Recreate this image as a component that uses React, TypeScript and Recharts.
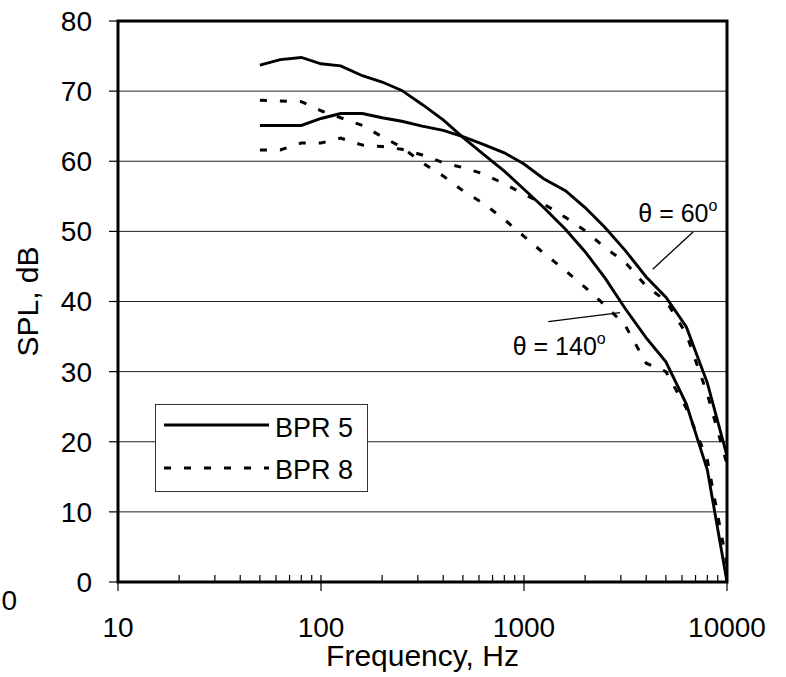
import React from 'react';
import {
  LineChart,
  Line,
  XAxis,
  YAxis,
  CartesianGrid,
  ReferenceLine,
  ReferenceArea,
  ReferenceDot,
  Legend,
} from 'recharts';

// ---------- data ----------
const frequencies = [
  50, 63, 80, 100, 125, 160, 200, 250, 315, 400, 500, 630, 800, 1000, 1250, 1600,
  2000, 2500, 3150, 4000, 5000, 6300, 8000, 10000,
];

const bpr5Theta60 = [
  65.1, 65.1, 65.1, 66.1, 66.8, 66.8, 66.2, 65.7, 65.0, 64.4, 63.5, 62.4, 61.2, 59.6,
  57.5, 55.8, 53.4, 50.6, 47.3, 43.5, 40.6, 36.4, 28.4, 18.0,
];

const bpr5Theta140 = [
  73.7, 74.5, 74.8, 73.9, 73.6, 72.2, 71.3, 70.1, 68.1, 65.9, 63.4, 61.0, 58.6, 56.0,
  53.4, 50.3, 47.1, 43.4, 39.0, 34.8, 31.4, 25.4, 16.0, 0.0,
];

const bpr8Theta60 = [
  61.6, 61.6, 62.6, 62.6, 63.3, 62.3, 62.1, 61.7, 60.9, 59.8, 59.1, 58.2, 56.8, 55.3,
  53.9, 52.0, 50.1, 47.7, 45.6, 42.2, 40.1, 35.4, 26.8, 16.8,
];

const bpr8Theta140 = [
  68.7, 68.6, 68.5, 67.2, 66.2, 65.1, 63.5, 62.0, 59.8, 57.9, 55.8, 54.0, 51.7, 49.3,
  46.9, 44.4, 42.0, 39.5, 36.6, 31.2, 30.0, 24.8, 17.4, 2.5,
];

const xMajorTicks = [10, 100, 1000, 10000];
const xMinorTicks = [
  20, 30, 40, 50, 60, 70, 80, 90, 200, 300, 400, 500, 600, 700, 800, 900, 2000, 3000,
  4000, 5000, 6000, 7000, 8000, 9000,
];
const yTicks = [0, 10, 20, 30, 40, 50, 60, 70, 80];

const seriesNames = ['BPR 5', 'BPR 8'];
const annotationLabels = ['θ = 60', 'θ = 140'];

const data = frequencies.map((f, i) => ({
  f,
  b5t60: bpr5Theta60[i],
  b5t140: bpr5Theta140[i],
  b8t60: bpr8Theta60[i],
  b8t140: bpr8Theta140[i],
}));

const allXTicks = [...xMajorTicks, ...xMinorTicks].sort((a, b) => a - b);

const FONT = '"Liberation Sans", Arial, Helvetica, sans-serif';
const DASH = '7 13';

const XTick = (props: any) => {
  const { x, y, payload } = props;
  const v = payload?.value;
  if (xMajorTicks.includes(v)) {
    return (
      <g>
        <line x1={x} x2={x} y1={y - 7} y2={y + 9} stroke="#000" strokeWidth={1.2} />
        <text x={x} y={y + 55} textAnchor="middle" fontSize={28} fontFamily={FONT} fill="#000">
          {v}
        </text>
      </g>
    );
  }
  return <line x1={x} x2={x} y1={y} y2={y - 7} stroke="#000" strokeWidth={1.2} />;
};

const YTitle = (props: any) => {
  const vb = props.viewBox || { x: 0, y: 21, width: 118, height: 561 };
  const cx = vb.x + 38;
  const cy = vb.y + vb.height / 2;
  return (
    <text
      x={cx}
      y={cy}
      transform={`rotate(-90 ${cx} ${cy})`}
      textAnchor="middle"
      fontSize={30}
      fontFamily={FONT}
      fill="#000"
    >
      SPL, dB
    </text>
  );
};

const XTitle = (props: any) => {
  const vb = props.viewBox || { x: 118, y: 582, width: 609, height: 95 };
  return (
    <text
      x={vb.x + vb.width / 2}
      y={vb.y + 84}
      textAnchor="middle"
      fontSize={30}
      fontFamily={FONT}
      fill="#000"
    >
      Frequency, Hz
    </text>
  );
};

const LegendBox = (props: any) => {
  const payload = (props.payload || []).filter((p: any) => seriesNames.includes(p.value));
  const items = seriesNames.map((name, i) => {
    const found = payload.find((p: any) => p.value === name);
    const dash = found?.payload?.strokeDasharray ?? (i === 1 ? DASH : undefined);
    return { name, dash };
  });
  return (
    <svg width={214} height={89} style={{ display: 'block' }}>
      <rect x={0.5} y={0.5} width={212} height={87} fill="#fff" stroke="#333" strokeWidth={1} />
      {items.map((it, i) => (
        <g key={it.name}>
          <line
            x1={9}
            x2={114}
            y1={21 + i * 43}
            y2={21 + i * 43}
            stroke="#000"
            strokeWidth={3}
            strokeDasharray={it.dash}
          />
          <text x={120} y={33 + i * 42} fontSize={27} fontFamily={FONT} fill="#000">
            {it.name}
          </text>
        </g>
      ))}
    </svg>
  );
};

const AnnotationText = (label: string) => (props: any) => (
  <text x={props.cx} y={props.cy} fontSize={25} fontFamily={FONT} fill="#000">
    {label}
    <tspan dy={-11} fontSize={16}>
      o
    </tspan>
  </text>
);

export default function App() {
  return (
    <div style={{ position: 'absolute', left: 0, top: 0, width: 786, height: 677, background: '#fff' }}>
      <LineChart
        width={786}
        height={677}
        data={data}
        margin={{ top: 21, right: 59, bottom: 0, left: 0 }}
      >
        <CartesianGrid vertical={false} stroke="#222" strokeWidth={1} />
        <XAxis
          dataKey="f"
          type="number"
          scale="log"
          domain={[10, 10000]}
          ticks={allXTicks}
          interval={0}
          tickSize={0}
          tickMargin={0}
          tickLine={false}
          axisLine={false}
          height={95}
          tick={<XTick />}
          label={XTitle}
          allowDataOverflow
        />
        <YAxis
          type="number"
          domain={[0, 80]}
          ticks={yTicks}
          interval={0}
          width={118}
          tickSize={9}
          tickMargin={17}
          axisLine={false}
          tickLine={{ stroke: '#000', strokeWidth: 1.2 }}
          tick={{ fontSize: 28, fontFamily: FONT, fill: '#000' }}
          label={YTitle}
        />
        <Line
          dataKey="b5t60"
          name={seriesNames[0]}
          stroke="#000"
          strokeWidth={2.9}
          dot={false}
          isAnimationActive={false}
        />
        <Line
          dataKey="b5t140"
          name="BPR 5 (140)"
          legendType="none"
          stroke="#000"
          strokeWidth={2.9}
          dot={false}
          isAnimationActive={false}
        />
        <Line
          dataKey="b8t60"
          name={seriesNames[1]}
          stroke="#000"
          strokeWidth={3}
          strokeDasharray={DASH}
          dot={false}
          isAnimationActive={false}
        />
        <Line
          dataKey="b8t140"
          name="BPR 8 (140)"
          legendType="none"
          stroke="#000"
          strokeWidth={3}
          strokeDasharray={DASH}
          dot={false}
          isAnimationActive={false}
        />
        <ReferenceLine
          segment={[
            { x: 6823, y: 49.95 },
            { x: 4305, y: 44.6 },
          ]}
          stroke="#000"
          strokeWidth={1.3}
          ifOverflow="visible"
        />
        <ReferenceLine
          segment={[
            { x: 1317, y: 37.12 },
            { x: 2971, y: 38.4 },
          ]}
          stroke="#000"
          strokeWidth={1.3}
          ifOverflow="visible"
        />
        <ReferenceDot x={3656} y={51.38} r={0} ifOverflow="visible" shape={AnnotationText(annotationLabels[0])} />
        <ReferenceDot x={880} y={32.37} r={0} ifOverflow="visible" shape={AnnotationText(annotationLabels[1])} />
        <ReferenceArea
          x1={10}
          x2={10000}
          y1={0}
          y2={80}
          fill="none"
          fillOpacity={0}
          stroke="#000"
          strokeWidth={3}
          ifOverflow="visible"
        />
        <Legend
          layout="vertical"
          align="center"
          verticalAlign="middle"
          content={<LegendBox />}
          wrapperStyle={{ left: 155, top: 404, width: 214, height: 89 }}
        />
      </LineChart>
      <svg
        width={24}
        height={40}
        style={{ position: 'absolute', left: 0, top: 580, overflow: 'visible' }}
      >
        <text x={17} y={30} textAnchor="end" fontSize={28} fontFamily={FONT} fill="#000">
          0
        </text>
      </svg>
    </div>
  );
}
